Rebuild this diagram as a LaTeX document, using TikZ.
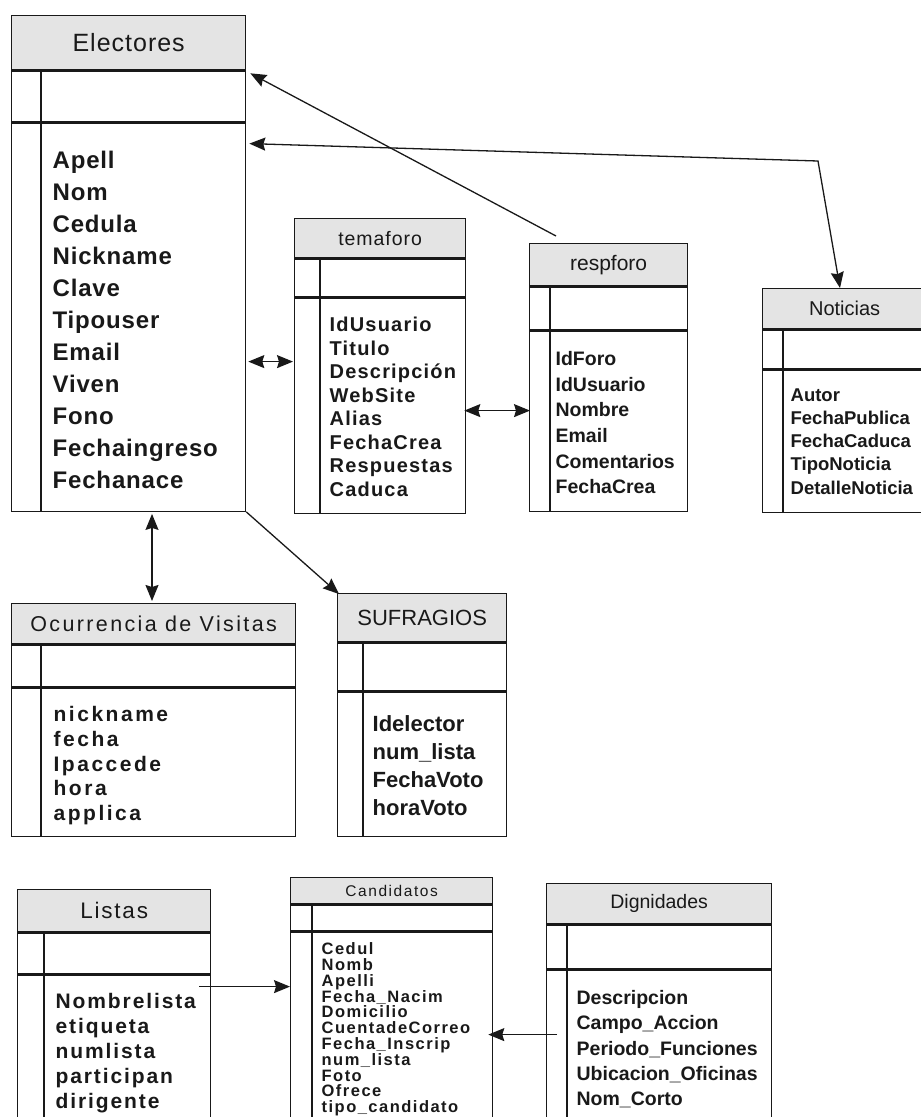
\documentclass[tikz,border=0pt]{standalone}
\usepackage{fontspec}
\setmainfont{Liberation Sans}
\usetikzlibrary{arrows.meta}

\definecolor{hdrgray}{RGB}{228,228,228}
\definecolor{ink}{RGB}{25,25,25}

\begin{document}
\begin{tikzpicture}[x=1pt, y=-1pt, line width=1.3pt, color=ink]

\tikzstyle{hdr}=[rectangle, draw, fill=hdrgray, anchor=north west, inner sep=0pt]
\tikzstyle{slot}=[rectangle, draw, anchor=north west, inner sep=0pt]
\tikzstyle{fields}=[anchor=north west, align=left, inner sep=0pt]
\tikzstyle{arrow}=[-{Stealth[length=16pt,width=13pt,inset=2pt]}]
\tikzstyle{biarrow}=[{Stealth[length=16pt,width=13pt,inset=2pt]}-{Stealth[length=16pt,width=13pt,inset=2pt]}]

\useasboundingbox (0,0) rectangle (921,1117);

% Electores
\node (elec) [hdr, minimum width=234, minimum height=54,
  font=\fontsize{25}{28}\selectfont\addfontfeature{LetterSpace=4}] at (11,15) {Electores};
\node (elec key) [slot, minimum width=234, minimum height=51] at (elec.south west) {};
\node (elec fld) [slot, minimum width=234, minimum height=388] at (elec key.south west) {};
\draw ([xshift=30]elec key.north west) -- ([xshift=30]elec fld.south west);
\node (elec txt) [fields, font=\fontsize{24}{32}\selectfont\bfseries\addfontfeature{LetterSpace=3.5}] at (52,150)
  {Apell\\Nom\\Cedula\\Nickname\\Clave\\Tipouser\\Email\\Viven\\Fono\\Fechaingreso\\Fechanace};

% temaforo
\node (tema) [hdr, minimum width=171, minimum height=39,
  font=\fontsize{19.5}{24}\selectfont\addfontfeature{LetterSpace=5}] at (294,218) {temaforo};
\node (tema key) [slot, minimum width=171, minimum height=38] at (tema.south west) {};
\node (tema fld) [slot, minimum width=171, minimum height=215] at (tema key.south west) {};
\draw ([xshift=26]tema key.north west) -- ([xshift=26]tema fld.south west);
\node (tema txt) [fields, font=\fontsize{20}{23.5}\selectfont\bfseries\addfontfeature{LetterSpace=6}] at (329,316.6)
  {IdUsuario\\Titulo\\Descripción\\WebSite\\Alias\\FechaCrea\\Respuestas\\Caduca};

% respforo
\node (resp) [hdr, minimum width=158, minimum height=42, font=\fontsize{21}{24}\selectfont] at (529,243) {respforo};
\node (resp key) [slot, minimum width=158, minimum height=43] at (resp.south west) {};
\node (resp fld) [slot, minimum width=158, minimum height=180] at (resp key.south west) {};
\draw ([xshift=21]resp key.north west) -- ([xshift=21]resp fld.south west);
\node (resp txt) [fields, font=\fontsize{19.5}{25.7}\selectfont\bfseries] at (555,350.6)
  {IdForo\\IdUsuario\\Nombre\\Email\\Comentarios\\FechaCrea};

% Noticias
\node (noti) [hdr, minimum width=164, minimum height=40, font=\fontsize{20}{23}\selectfont] at (762,288) {Noticias};
\node (noti key) [slot, minimum width=164, minimum height=39] at (noti.south west) {};
\node (noti fld) [slot, minimum width=164, minimum height=142] at (noti key.south west) {};
\draw ([xshift=21]noti key.north west) -- ([xshift=21]noti fld.south west);
\node (noti txt) [fields, font=\fontsize{18.5}{23.2}\selectfont\bfseries] at (790,388)
  {Autor\\FechaPublica\\FechaCaduca\\TipoNoticia\\DetalleNoticia};

% Ocurrencia de Visitas
\node (ocur) [hdr, minimum width=284, minimum height=40,
  font=\fontsize{21.5}{25}\selectfont\addfontfeature{LetterSpace=11}] at (11,603) {Ocurrencia de Visitas};
\node (ocur key) [slot, minimum width=284, minimum height=42] at (ocur.south west) {};
\node (ocur fld) [slot, minimum width=284, minimum height=148] at (ocur key.south west) {};
\draw ([xshift=30]ocur key.north west) -- ([xshift=30]ocur fld.south west);
\node (ocur txt) [fields, font=\fontsize{21}{24.7}\selectfont\bfseries\addfontfeature{LetterSpace=12}] at (53,706)
  {nickname\\fecha\\Ipaccede\\hora\\applica};

% SUFRAGIOS
\node (sufr) [hdr, minimum width=169, minimum height=48, font=\fontsize{22}{26}\selectfont] at (337,593) {SUFRAGIOS};
\node (sufr key) [slot, minimum width=169, minimum height=48] at (sufr.south west) {};
\node (sufr fld) [slot, minimum width=169, minimum height=144] at (sufr key.south west) {};
\draw ([xshift=26]sufr key.north west) -- ([xshift=26]sufr fld.south west);
\node (sufr txt) [fields, font=\fontsize{22}{28}\selectfont\bfseries] at (372,714.9)
  {Idelector\\num\_lista\\FechaVoto\\horaVoto};

% Listas
\node (list) [hdr, minimum width=193, minimum height=42,
  font=\fontsize{22.5}{26}\selectfont\addfontfeature{LetterSpace=8}] at (17,889) {Listas};
\node (list key) [slot, minimum width=193, minimum height=41] at (list.south west) {};
\node (list fld) [slot, minimum width=193, minimum height=160] at (list key.south west) {};
\draw ([xshift=27]list key.north west) -- ([xshift=27]list fld.south west);
\node (list txt) [fields, font=\fontsize{21}{25}\selectfont\bfseries\addfontfeature{LetterSpace=9}] at (55,992.2)
  {Nombrelista\\etiqueta\\numlista\\participan\\dirigente};

% Candidatos
\node (cand) [hdr, minimum width=202, minimum height=26,
  font=\fontsize{15.5}{18}\selectfont\addfontfeature{LetterSpace=10}] at (290,877) {Candidatos};
\node (cand key) [slot, minimum width=202, minimum height=26] at (cand.south west) {};
\node (cand fld) [slot, minimum width=202, minimum height=210] at (cand key.south west) {};
\draw ([xshift=22]cand key.north west) -- ([xshift=22]cand fld.south west);
\node (cand txt) [fields, font=\fontsize{16.5}{15.8}\selectfont\bfseries\addfontfeature{LetterSpace=9}] at (321,942)
  {Cedul\\Nomb\\Apelli\\Fecha\_Nacim\\Domicilio\\CuentadeCorreo\\Fecha\_Inscrip\\num\_lista\\Foto\\Ofrece\\tipo\_candidato};

% Dignidades
\node (dign) [hdr, minimum width=225, minimum height=40, font=\fontsize{19.5}{23}\selectfont] at (546,883) {Dignidades};
\node (dign key) [slot, minimum width=225, minimum height=44] at (dign.south west) {};
\node (dign fld) [slot, minimum width=225, minimum height=170] at (dign key.south west) {};
\draw ([xshift=21]dign key.north west) -- ([xshift=21]dign fld.south west);
\node (dign txt) [fields, font=\fontsize{19.5}{25.3}\selectfont\bfseries] at (576,989.8)
  {Descripcion\\Campo\_Accion\\Periodo\_Funciones\\Ubicacion\_Oficinas\\Nom\_Corto};

% links
\coordinate (bend) at (818,161);
\draw[arrow] ([xshift=27, yshift=7]resp.north west) -- ([xshift=4, yshift=-3]elec key.north east);
\draw[biarrow] ([xshift=3, yshift=-21]elec fld.north east) -- (bend) -- ([xshift=78]noti.north west);
\draw[biarrow] ([xshift=2, yshift=-239]elec fld.north east) -- ([xshift=-1, yshift=-64]tema fld.north west);
\draw[biarrow] ([xshift=-2, yshift=-113]tema fld.north east) -- ([xshift=1, yshift=-80]resp fld.north west);
\draw[biarrow] ([xshift=141, yshift=-2]elec fld.south west) -- ([xshift=141, yshift=2]ocur.north west);
\draw[arrow] (elec fld.south east) -- ([xshift=2, yshift=-1]sufr.north west);
\draw[arrow] ([xshift=-12, yshift=-12]list fld.north east) -- ([yshift=-55]cand fld.north west);
\draw[arrow] ([xshift=11, yshift=-65]dign fld.north west) -- ([xshift=-5, yshift=-103]cand fld.north east);

\end{tikzpicture}
\end{document}
